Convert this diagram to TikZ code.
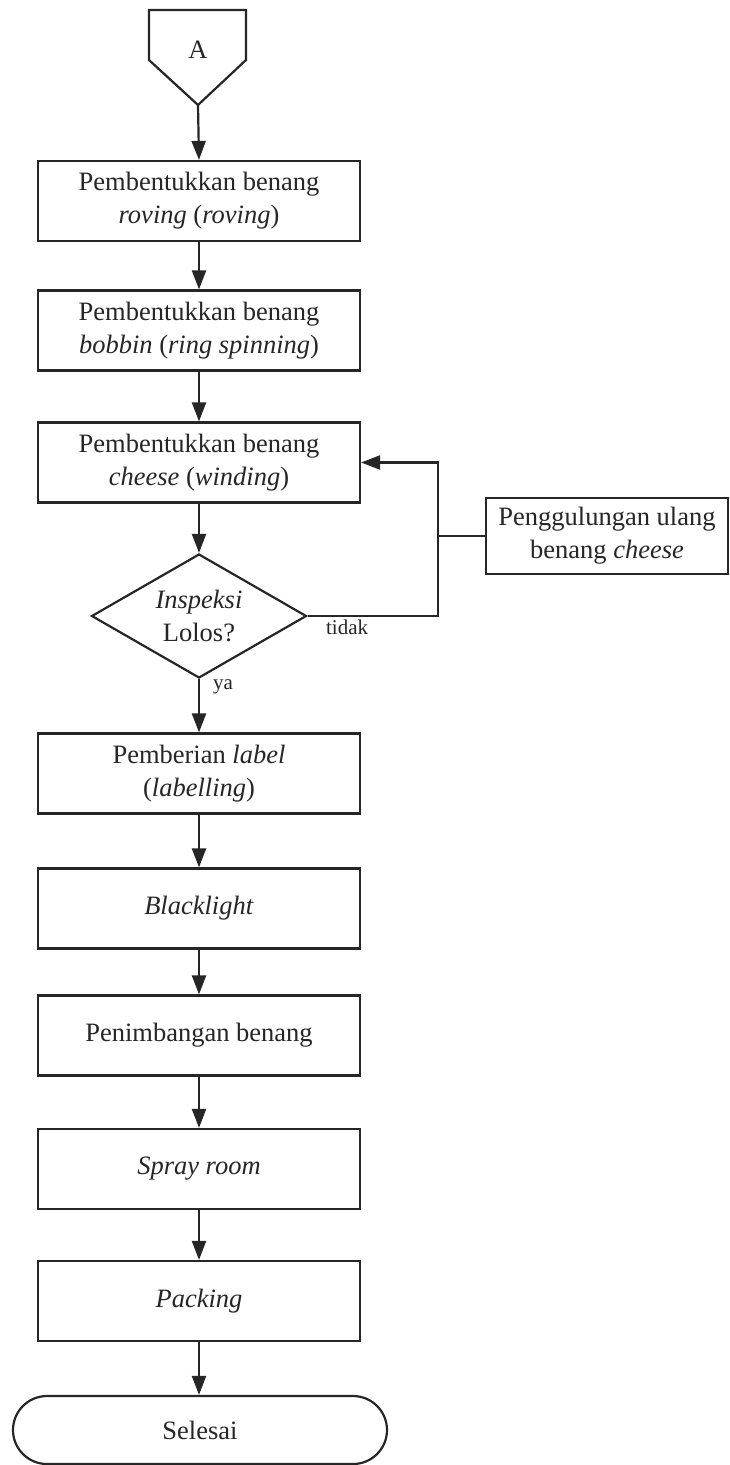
\documentclass[tikz,border=0pt]{standalone}
\usepackage{fontspec}
\setmainfont{Liberation Serif}
\usetikzlibrary{shapes.geometric,shapes.misc,arrows.meta}
\begin{document}
\begin{tikzpicture}[x=1pt,y=-1pt,
  color=black!85, line width=2.2pt,
  every node/.style={font=\fontsize{26.5}{33}\selectfont},
  stepbox/.style={draw, rectangle, minimum width=322, minimum height=80, align=center, inner sep=0pt},
  decide/.style={draw, diamond, aspect=1.73, minimum width=215, minimum height=124, align=center, inner sep=0pt},
  term/.style={draw, rounded rectangle, minimum width=374, minimum height=68, inner sep=0pt},
  small/.style={font=\fontsize{21}{24}\selectfont, inner sep=0pt},
  arr/.style={-{Triangle[length=19pt,width=14pt]}}
]
\useasboundingbox (0,0) rectangle (729,1465);
\fill[white] (0,0) rectangle (729,1465);

% off-page connector A
\draw (149,10) -- (246,10) -- (246,60) -- (198,105) -- (149,60) -- cycle;
\node (A) at (198,50) {A};
\coordinate (Atip) at (198,105);

\node[stepbox] (b1) at (199,201) {Pembentukkan benang\\\textit{roving} (\textit{roving})};
\node[stepbox] (b2) at (199,330.5) {Pembentukkan benang\\\textit{bobbin} (\textit{ring spinning})};
\node[stepbox] (b3) at (199,462.5) {Pembentukkan benang\\\textit{cheese} (\textit{winding})};
\node[decide] (d) at (199,616) {\textit{Inspeksi}\\Lolos?};
\node[stepbox, minimum width=242, minimum height=76] (pg) at (607,536) {Penggulungan ulang\\benang \textit{cheese}};
\node[stepbox] (b4) at (199,773.5) {Pemberian \textit{label}\\(\textit{labelling})};
\node[stepbox] (b5) at (199,908.5) {\textit{Blacklight}};
\node[stepbox] (b6) at (199,1035.5) {Penimbangan benang};
\node[stepbox] (b7) at (199,1169) {\textit{Spray room}};
\node[stepbox] (b8) at (199,1301) {\textit{Packing}};
\node[term] (end) at (200,1430) {Selesai};

\coordinate (jr) at (438,536);

\draw[arr] (Atip) -- (b1.north);
\draw[arr] (b1) -- (b2);
\draw[arr] (b2) -- (b3);
\draw[arr] (b3) -- (d);
\draw[arr] (d) -- (b4);
\draw[arr] (b4) -- (b5);
\draw[arr] (b5) -- (b6);
\draw[arr] (b6) -- (b7);
\draw[arr] (b7) -- (b8);
\draw[arr] (b8.south) -- (b8.south |- end.north);
\draw[arr] (d.east) -| (jr) |- (b3.east);
\draw (pg.west) -- (jr);

\node[small, anchor=north west] (tidak) at (325,619) {tidak};
\node[small, anchor=north west] (ya) at (212,679) {ya};
\end{tikzpicture}
\end{document}
